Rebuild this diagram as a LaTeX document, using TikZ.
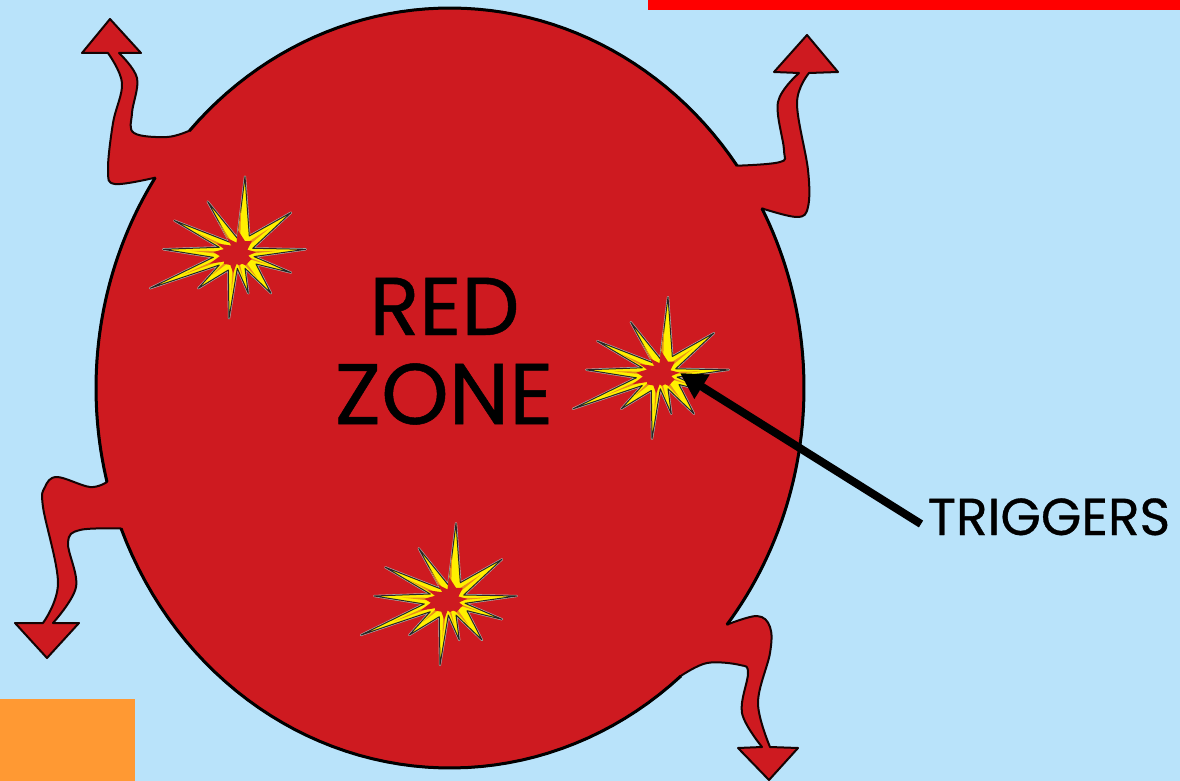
\documentclass[tikz,border=0pt]{standalone}
\usepackage{fontspec}
\setmainfont{Poppins}
\newfontfamily\zonefont[FakeBold=0.6]{Poppins}
\usetikzlibrary{arrows.meta}
\definecolor{skybg}{HTML}{B9E3FA}
\definecolor{zonered}{HTML}{CE1A20}
\definecolor{blockorange}{HTML}{FF9933}
\definecolor{burstyellow}{HTML}{FFF000}
\definecolor{burststreak}{HTML}{E8901A}
\newcommand{\burstpath}[2]{%
 (10*#1,-76.7*#1) -- (14.3*#2,-17.3*#2) -- (56*#1,-40.7*#1) -- (17.7*#2,-5*#2) --
 (70.7*#1,-4*#1) -- (19*#2,3.3*#2) -- (56*#1,19.3*#1) -- (21*#2,10.7*#2) --
 (36*#1,40*#1) -- (10*#2,15*#2) -- (13.3*#1,40*#1) -- (2.3*#2,15*#2) --
 (-6*#1,65*#1) -- (-6.7*#2,16.7*#2) -- (-36.7*#1,35*#1) -- (-15.7*#2,11.7*#2) --
 (-85*#1,35*#1) -- (-21.7*#2,4*#2) -- (-71.7*#1,-4*#1) -- (-15.7*#2,-6*#2) --
 (-60.7*#1,-32.7*#1) -- (-5*#2,-11*#2) -- (-27.3*#1,-51.7*#1) -- (2.3*#2,-15*#2) -- cycle}
\newcommand{\burst}[2]{%
 \begin{scope}[shift={(#1,#2)}]
  \draw[draw=gray!60,line width=2.2pt,line join=round] \burstpath{1}{1};
  \draw[fill=burstyellow,draw=black!85,line width=1pt,line join=round] \burstpath{1}{1};
  \fill[burststreak] \burstpath{.62}{.35};
  \fill[zonered] \burstpath{.3}{.7};
 \end{scope}}
\tikzset{
 arrowblob/.style={fill=zonered,draw=black!90!zonered,line width=2pt,line join=round},
 bodyline/.style={draw=black,line width=3pt},
 zonelabel/.style={inner sep=0pt,text=black},
 pointer/.style={line width=8pt,draw=black,-{Triangle[length=26pt,width=27pt]}},
 ell/.style={domain=#1,samples=50,variable=\t}
}
\begin{document}
\begin{tikzpicture}[x=1pt,y=-1pt]
\useasboundingbox (0,0) rectangle (1180,781);
\fill[skybg] (0,0) rectangle (1180,781);
\fill[red] (648,0) rectangle (1180,10);
\fill[blockorange] (0,699) rectangle (135,781);
% body with four arms
\draw[arrowblob]
 (189.4,130.7)
 -- plot[ell=-137.4:-35.8] ({450+354*cos(\t)},{388+380*sin(\t)})
 -- plot[smooth,tension=.6] coordinates {(737,165.7) (780,162) (784,150) (778,102) (799,73)}
 -- (774,72) -- (807,35) -- (838,72) -- (809,73)
 -- plot[smooth,tension=.6] coordinates {(809,73) (797,103) (808,170) (808,207) (797,217) (762,208.4)}
 -- plot[ell=-28.2:38.5] ({450+354*cos(\t)},{388+380*sin(\t)})
 -- plot[smooth,tension=.6] coordinates {(727,624.6) (757,616) (770,627) (770,653) (758,703) (770,747)}
 -- (798,748) -- (769,780) -- (738,748) -- (762,747)
 -- plot[smooth,tension=.6] coordinates {(762,747) (742,713) (748,673) (740,665) (707,663) (680.7,676)}
 -- plot[ell=49.3:158.3] ({450+354*cos(\t)},{388+380*sin(\t)})
 -- plot[smooth,tension=.6] coordinates {(121,528.5) (80,530) (68,543) (76,587) (53,623)}
 -- (79,623) -- (47,658) -- (15,623) -- (43,623)
 -- plot[smooth,tension=.6] coordinates {(43,623) (58,583) (43,507) (45,487) (57,477) (90,487) (107,482)}
 -- plot[ell=165.7:213.6] ({450+354*cos(\t)},{388+380*sin(\t)})
 -- plot[smooth,tension=.6] coordinates {(155,177.7) (115,184) (108,170) (113,123) (122,83) (108,53)}
 -- (82,53) -- (110,19) -- (141,53) -- (119,53)
 -- plot[smooth,tension=.6] coordinates {(119,53) (137,78) (132,113) (134,133) (167,137) (189.4,130.7)}
 -- cycle;
\draw[bodyline] plot[ell=-137.4:-35.8] ({450+354*cos(\t)},{388+380*sin(\t)});
\draw[bodyline] plot[ell=-28.2:38.5] ({450+354*cos(\t)},{388+380*sin(\t)});
\draw[bodyline] plot[ell=49.3:158.3] ({450+354*cos(\t)},{388+380*sin(\t)});
\draw[bodyline] plot[ell=165.7:213.6] ({450+354*cos(\t)},{388+380*sin(\t)});
\burst{235}{253.3}
\burst{658}{373.8}
\burst{446}{600}
\node[zonelabel,anchor=base,font=\zonefont\fontsize{82}{86}\selectfont] (red) at (444.5,335) {RED};
\node[zonelabel,anchor=base,font=\zonefont\fontsize{86}{90}\selectfont] (zone) at (444,424) {ZONE};
\node[zonelabel,anchor=base,font=\zonefont\fontsize{52}{56}\selectfont] (trig) at (1049,535) {TRIGGERS};
\coordinate (tail) at (921,524);
\coordinate (hit) at (680,373);
\draw[pointer] (tail) -- (hit);
\end{tikzpicture}
\end{document}
